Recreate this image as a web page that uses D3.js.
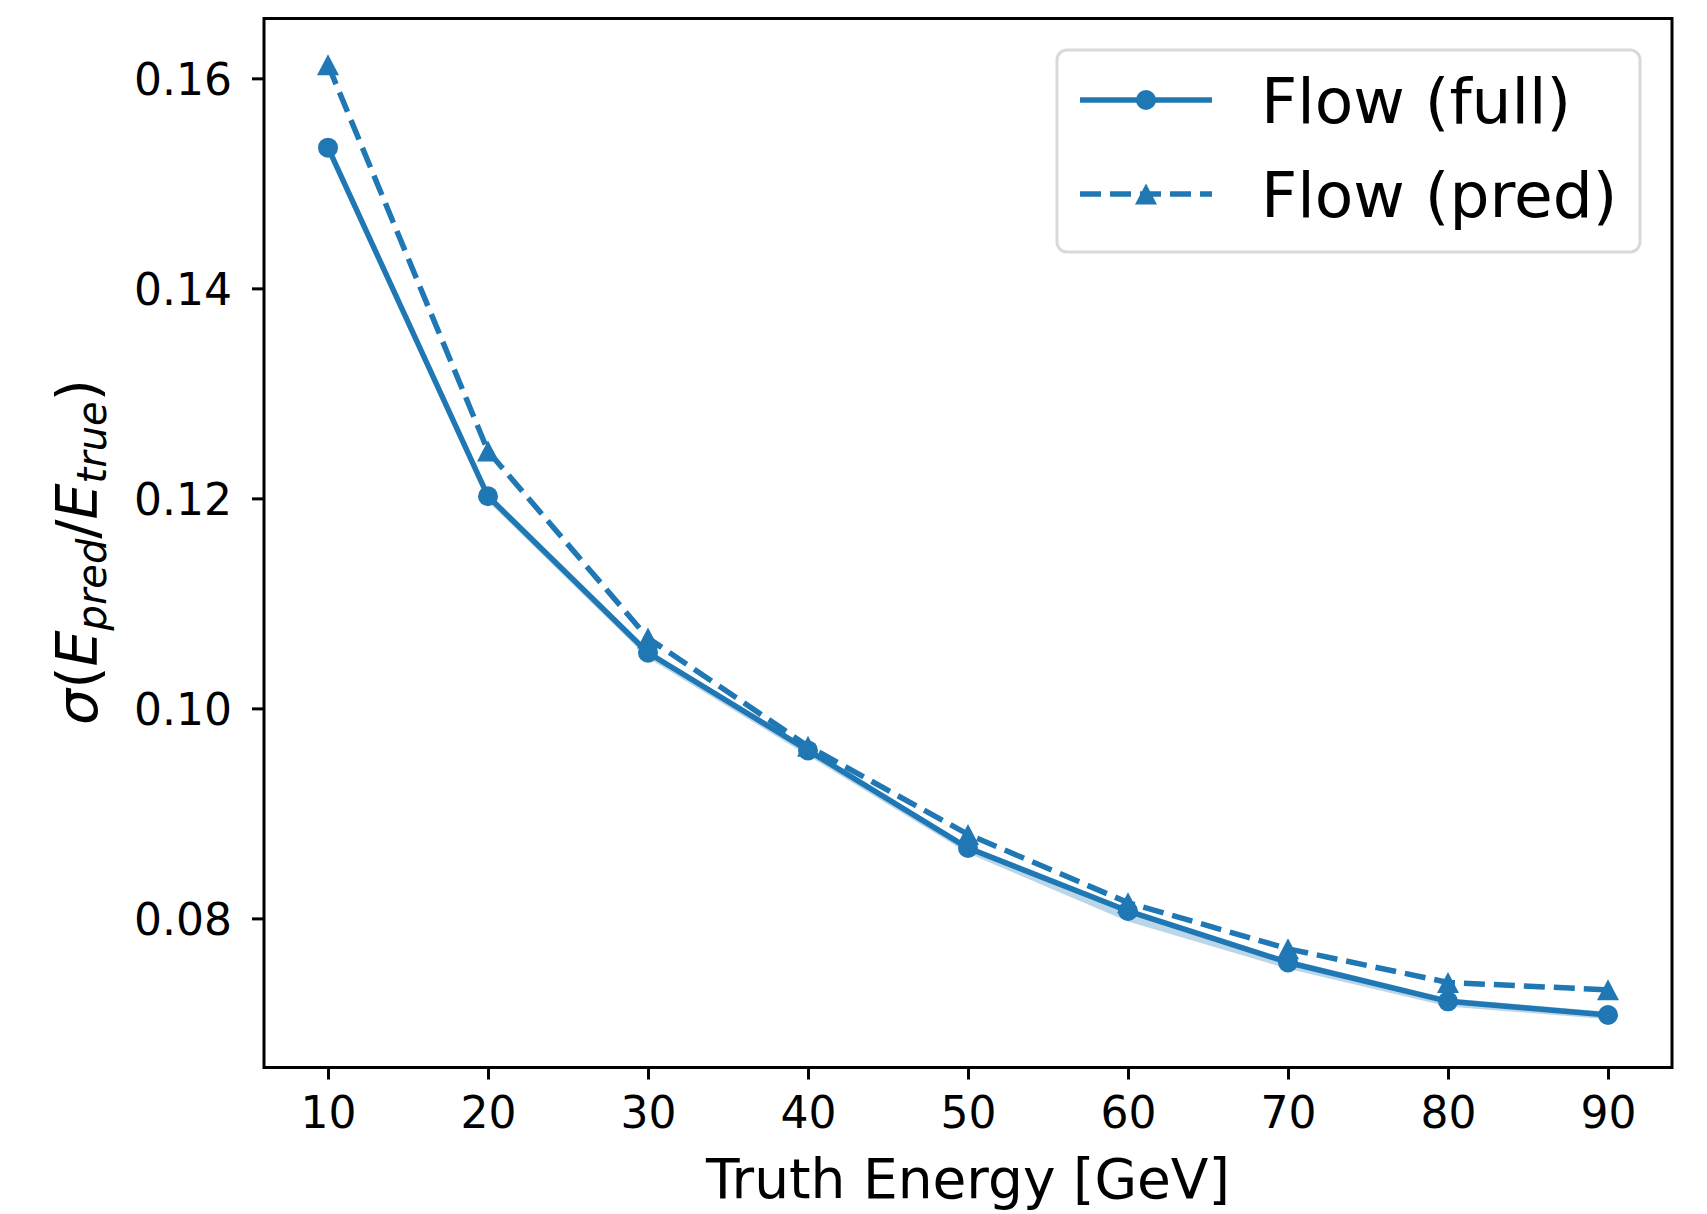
<!DOCTYPE html>
<html>
<head>
<meta charset="utf-8">
<script src="https://cdn.jsdelivr.net/npm/d3@7"></script>
<style>
  body { margin: 0; background: #fff; }
  svg { display: block; font-family: "DejaVu Sans", sans-serif; }
</style>
</head>
<body>
<svg id="chart"></svg>
<script>
// values
var energies  = [10, 20, 30, 40, 50, 60, 70, 80, 90];
var sigmaFull = [0.1534, 0.1202, 0.1053, 0.0960, 0.0867, 0.0807, 0.0758, 0.0721, 0.0708];
var bandLow   = [0.1530, 0.1197, 0.1048, 0.0955, 0.0862, 0.0797, 0.0752, 0.0716, 0.0704];
var bandHigh  = [0.1537, 0.1205, 0.1056, 0.0963, 0.0870, 0.0810, 0.0761, 0.0724, 0.0711];
var sigmaPred = [0.1613, 0.1245, 0.1067, 0.0964, 0.0880, 0.0815, 0.0771, 0.0739, 0.0732];
var xTicks = [10, 20, 30, 40, 50, 60, 70, 80, 90];
var yTicks = [0.08, 0.10, 0.12, 0.14, 0.16];
var legendLabels = ['Flow (full)', 'Flow (pred)'];

var W = 1707, H = 1214;
var mL = 264, mR = 1672, mT = 18.5, mB = 1067.5;
var blue = '#1f77b4';
var lw = 5.5;
var dash = '21,9';

var svg = d3.select('#chart').attr('width', W).attr('height', H);

var x = d3.scaleLinear().domain([6, 94]).range([mL, mR]);
var y = d3.scaleLinear().domain([0.0658, 0.1657]).range([mB, mT]);

// matplotlib-style triangle_up, centred on its box
function triPath(w, h) {
    return 'M0,' + (-h / 2) + 'L' + (w / 2) + ',' + (h / 2) + 'L' + (-w / 2) + ',' + (h / 2) + 'Z';
}

// band
var area = d3.area()
    .x(function(d, i) { return x(energies[i]); })
    .y0(function(d, i) { return y(bandLow[i]); })
    .y1(function(d, i) { return y(bandHigh[i]); });
svg.append('path').datum(energies)
    .attr('d', area).attr('fill', blue).attr('fill-opacity', 0.3);

var line = d3.line()
    .x(function(d) { return x(d[0]); })
    .y(function(d) { return y(d[1]); });

var fullPts = d3.zip(energies, sigmaFull);
var predPts = d3.zip(energies, sigmaPred);

svg.append('path').datum(fullPts)
    .attr('d', line).attr('fill', 'none').attr('stroke', blue)
    .attr('stroke-width', lw).attr('stroke-linejoin', 'round');
svg.selectAll('circle.full').data(fullPts).enter().append('circle')
    .attr('class', 'full')
    .attr('cx', function(d) { return x(d[0]); })
    .attr('cy', function(d) { return y(d[1]); })
    .attr('r', 10).attr('fill', blue);

svg.append('path').datum(predPts)
    .attr('d', line).attr('fill', 'none').attr('stroke', blue)
    .attr('stroke-width', lw).attr('stroke-dasharray', dash);
svg.selectAll('path.pred').data(predPts).enter().append('path')
    .attr('class', 'pred')
    .attr('transform', function(d) { return 'translate(' + x(d[0]) + ',' + y(d[1]) + ')'; })
    .attr('d', triPath(22, 21)).attr('fill', blue);

// axes
var xAxis = svg.append('g').attr('transform', 'translate(0,' + mB + ')')
    .call(d3.axisBottom(x).tickValues(xTicks).tickSize(12).tickPadding(8));
var yAxis = svg.append('g').attr('transform', 'translate(' + mL + ',0)')
    .call(d3.axisLeft(y).tickValues(yTicks).tickFormat(d3.format('.2f')).tickSize(12).tickPadding(20));
[xAxis, yAxis].forEach(function(g) {
    g.select('.domain').remove();
    g.selectAll('line').attr('stroke', '#000').attr('stroke-width', 3);
    g.selectAll('text').attr('font-size', 44).attr('fill', '#000')
        .attr('font-family', '"DejaVu Sans", sans-serif');
});
xAxis.selectAll('text').attr('dy', '0.93em');
yAxis.selectAll('text').attr('dy', '0.36em');

svg.append('rect')
    .attr('x', mL).attr('y', mT)
    .attr('width', mR - mL).attr('height', mB - mT)
    .attr('fill', 'none').attr('stroke', '#000').attr('stroke-width', 3);

// axis labels
svg.append('text')
    .attr('x', (mL + mR) / 2).attr('y', 1198)
    .attr('text-anchor', 'middle').attr('font-size', 55)
    .text('Truth Energy [GeV]');

var yl = svg.append('text')
    .attr('transform', 'translate(97,552) rotate(-90)')
    .attr('text-anchor', 'middle').attr('font-size', 57);
yl.append('tspan').attr('font-style', 'italic').text('σ');
yl.append('tspan').text('(');
yl.append('tspan').attr('font-style', 'italic').text('E');
yl.append('tspan').attr('font-style', 'italic').attr('font-size', 40).attr('dy', 9).text('pred');
yl.append('tspan').attr('dy', -9).text('/');
yl.append('tspan').attr('font-style', 'italic').text('E');
yl.append('tspan').attr('font-style', 'italic').attr('font-size', 40).attr('dy', 9).text('true');
yl.append('tspan').attr('dy', -9).text(')');

// legend
var lg = svg.append('g');
lg.append('rect')
    .attr('x', 1057).attr('y', 50).attr('width', 583).attr('height', 202)
    .attr('rx', 10).attr('fill', '#fff').attr('fill-opacity', 0.8)
    .attr('stroke', '#d9d9d9').attr('stroke-width', 3);
var rows = [100, 194];
legendLabels.forEach(function(lab, i) {
    var ry = rows[i];
    var seg = lg.append('line')
        .attr('x1', 1080).attr('x2', 1212).attr('y1', ry).attr('y2', ry)
        .attr('stroke', blue).attr('stroke-width', lw);
    if (i === 1) {
        seg.attr('stroke-dasharray', dash);
        lg.append('path').attr('transform', 'translate(1146,' + ry + ')').attr('d', triPath(22, 21)).attr('fill', blue);
    } else {
        lg.append('circle').attr('cx', 1146).attr('cy', ry).attr('r', 10).attr('fill', blue);
    }
    lg.append('text').attr('x', 1261).attr('y', ry).attr('dy', '0.36em')
        .attr('font-size', 63).text(lab);
});
</script>
</body>
</html>
